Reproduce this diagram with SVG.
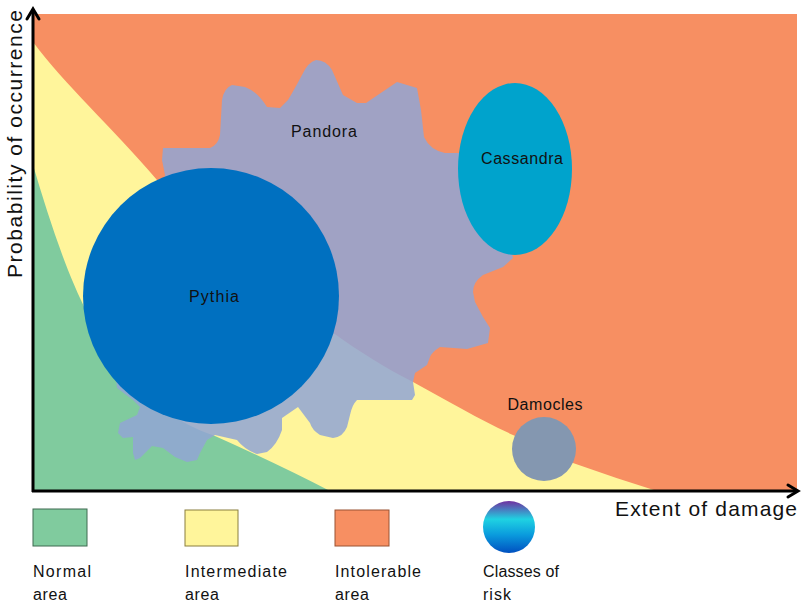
<svg xmlns="http://www.w3.org/2000/svg" width="801" height="605" viewBox="0 0 801 605">
<style>
  .lbl { font-family: "Liberation Sans", Arial, sans-serif; font-size: 16px; fill: #111; }
  .leg { font-family: "Liberation Sans", Arial, sans-serif; font-size: 16px; fill: #111; }
  .axl { font-family: "Liberation Sans", Arial, sans-serif; font-size: 21px; fill: #111; }
  .axis { stroke: #000; stroke-width: 3; fill: none; }
  .head { stroke: #000; stroke-width: 3; fill: none; stroke-linecap: round; stroke-linejoin: miter; }
</style>
<defs>
  <linearGradient id="riskGrad" x1="0" y1="0" x2="0" y2="1">
    <stop offset="0" stop-color="#7030A0"/>
    <stop offset="0.35" stop-color="#1FD2E2"/>
    <stop offset="0.65" stop-color="#0A9BDD"/>
    <stop offset="1" stop-color="#0050C0"/>
  </linearGradient>
</defs>
<rect width="801" height="605" fill="#fff"/>

<g id="zones">
  <rect id="intolerable-zone" x="33" y="14" width="764" height="477" fill="#F78F62"/>
  <path id="intermediate-zone" d="M33,42 C65,85 110,125 157,180 C250,270 330,340 413,382 C450,402 480,420 513,435 C535,445 555,455 573,463 Q615,478 657,491 L33,491 Z" fill="#FFF59B"/>
  <path id="normal-zone" d="M33,165 C70,290 110,400 215,436 Q280,465 330,491 L33,491 Z" fill="#80CB9E"/>
</g>

<g id="Pandora">
  <path d="M163,148 L210,148 Q218,145 220,135 L222,100 Q224,88 232,85 L245,87 Q258,92 267,107 L280,108 L288,100 Q294,90 302,75 Q308,62 316,60 Q326,60 332,70 L343,95 L357,103 L366,103 L397,82 L417,88 L421,110 L424,137 Q430,150 445,153 L470,153 L500,200 L513,258 L503,267 L483,275 Q473,282 473,292 L475,302 L483,317 L490,328 L488,343 L467,349 L440,347 Q432,352 430,357 L427,365 L415,373 L413,382 L415,395 L412,400 L357,400 Q352,405 350,415 L347,427 Q343,437 333,438 L320,435 Q312,430 310,423 L298,407 L282,418 L282,430 Q277,445 267,452 L257,454 Q245,450 237,440 L215,435 L207,440 L200,453 L197,460 L187,462 L175,457 L163,448 L152,446 L140,458 L135,460 L133,453 L133,437 L123,438 L118,433 L120,423 L137,415 L140,407 L133,400 L117,388 L115,370 L165,175 L162,160 Z" fill="#92A5D4" fill-opacity="0.86"/>
  <text class="lbl" x="324" y="137" text-anchor="middle" textLength="66">Pandora</text>
</g>

<g id="Pythia">
  <circle cx="211" cy="296" r="128" fill="#0070C0"/>
  <text class="lbl" x="214" y="302" text-anchor="middle" textLength="50">Pythia</text>
</g>

<g id="Cassandra">
  <ellipse cx="515" cy="169" rx="57" ry="86" fill="#00A3CC"/>
  <text class="lbl" x="522" y="164" text-anchor="middle" textLength="82">Cassandra</text>
</g>

<g id="Damocles">
  <circle cx="544" cy="449" r="32" fill="#8497B0"/>
  <text class="lbl" x="545" y="410" text-anchor="middle" textLength="75">Damocles</text>
</g>

<g id="axes">
  <line class="axis" x1="33" y1="492" x2="33" y2="9"/>
  <polyline class="head" points="27,19 33,9 39,19"/>
  <line class="axis" x1="32" y1="491" x2="797" y2="491"/>
  <polyline class="head" points="788,485 798,491 788,497"/>
  <text class="axl" transform="translate(22,144) rotate(-90)" text-anchor="middle" font-size="20" textLength="268">Probability of occurrence</text>
  <text class="axl" x="615" y="516" textLength="182">Extent of  damage</text>
</g>

<g id="connectors"/>

<g id="legend">
  <g id="legend-normal">
    <rect x="33" y="509" width="54" height="37" fill="#80CB9E" stroke="#3E6B50" stroke-width="1"/>
    <text class="leg" x="33" y="577" textLength="58">Normal</text>
    <text class="leg" x="33" y="600" textLength="34">area</text>
  </g>
  <g id="legend-intermediate">
    <rect x="185" y="510" width="53" height="36" fill="#FFF59B" stroke="#8A7E3E" stroke-width="1"/>
    <text class="leg" x="185" y="577" textLength="102">Intermediate</text>
    <text class="leg" x="185" y="600" textLength="34">area</text>
  </g>
  <g id="legend-intolerable">
    <rect x="335" y="510" width="54" height="36" fill="#F78F62" stroke="#9A5232" stroke-width="1"/>
    <text class="leg" x="335" y="577" textLength="86">Intolerable</text>
    <text class="leg" x="335" y="600" textLength="34">area</text>
  </g>
  <g id="legend-risk">
    <circle cx="509" cy="527" r="26" fill="url(#riskGrad)"/>
    <text class="leg" x="483" y="577" textLength="76">Classes of</text>
    <text class="leg" x="483" y="600" textLength="28">risk</text>
  </g>
</g>
</svg>
